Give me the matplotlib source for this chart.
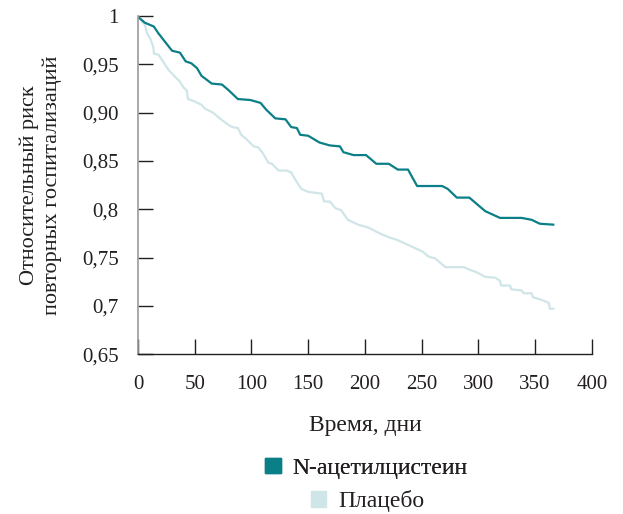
import matplotlib
matplotlib.use("Agg")
import matplotlib.pyplot as plt
from matplotlib.patches import Patch

plt.rcParams['font.family'] = ['Liberation Serif', 'DejaVu Serif']

# N-ацетилцистеин
days_nac = [1, 6, 14, 18, 22, 30, 37, 42, 47, 52,
            56, 65, 74, 80, 88, 99, 108, 113, 121, 130,
            135, 140, 143, 150, 160, 169, 178, 181, 190, 201,
            210, 221, 229, 238, 246, 268, 273, 281, 292, 306,
            319, 338, 347, 354, 366]
risk_nac = [0.998, 0.993, 0.989, 0.982, 0.976, 0.964, 0.962, 0.953, 0.951, 0.946,
            0.938, 0.930, 0.929, 0.923, 0.914, 0.913, 0.910, 0.903, 0.894, 0.893,
            0.885, 0.884, 0.877, 0.876, 0.869, 0.866, 0.865, 0.859, 0.856, 0.856,
            0.847, 0.847, 0.841, 0.841, 0.824, 0.824, 0.821, 0.812, 0.812, 0.798,
            0.791, 0.791, 0.789, 0.785, 0.784]

# Плацебо
days_pl = [1, 6, 8, 11, 13.5, 14, 18, 22, 27, 31,
           37, 40, 43, 44, 49, 56, 59, 66, 72, 80,
           83, 88, 91, 96, 102, 106, 110, 115, 118, 124,
           131, 135, 140, 144, 150, 162, 164, 169, 174, 179,
           185, 194, 203, 213, 221, 229, 240, 251, 256, 262,
           271, 287, 293, 298, 306, 315, 319, 320, 328, 329,
           338, 340, 347, 348, 356, 362, 363, 366]
risk_pl = [0.998, 0.991, 0.982, 0.976, 0.968, 0.961, 0.960, 0.953, 0.944, 0.939,
           0.932, 0.926, 0.923, 0.914, 0.912, 0.908, 0.904, 0.900, 0.894, 0.887,
           0.885, 0.884, 0.877, 0.872, 0.865, 0.864, 0.858, 0.848, 0.847, 0.840,
           0.840, 0.838, 0.828, 0.821, 0.818, 0.816, 0.808, 0.808, 0.801, 0.799,
           0.789, 0.784, 0.781, 0.775, 0.771, 0.768, 0.762, 0.756, 0.751, 0.749,
           0.740, 0.740, 0.737, 0.735, 0.730, 0.729, 0.726, 0.721, 0.721, 0.717,
           0.716, 0.713, 0.713, 0.709, 0.706, 0.703, 0.697, 0.697]

yticks = [1.0, 0.95, 0.90, 0.85, 0.80, 0.75, 0.70, 0.65]
ytick_labels = ['1', '0,95', '0,90', '0,85', '0,8', '0,75', '0,7', '0,65']
xticks = [0, 50, 100, 150, 200, 250, 300, 350, 400]

teal = '#0b7f87'
light = '#cfe5e7'
txt = '#231f20'

fig = plt.figure(figsize=(6.23, 5.14), dpi=100)
ax = fig.add_axes([0.2215, 0.311, 0.7285, 0.658])

ax.plot(days_pl, risk_pl, color=light, lw=1.6, solid_joinstyle='round')
ax.plot(days_nac, risk_nac, color=teal, lw=1.6, solid_joinstyle='round')

ax.set_xlim(0, 400)
ax.set_ylim(0.65, 1.0)
ax.set_yticks(yticks)
ax.set_yticklabels(ytick_labels)
ax.set_xticks(xticks)

for s in ['top', 'right']:
    ax.spines[s].set_visible(False)
ax.spines['left'].set_color('#9a9a9a')
ax.spines['left'].set_linewidth(1.2)
ax.spines['bottom'].set_color(txt)
ax.spines['bottom'].set_linewidth(1.0)

ax.tick_params(axis='y', direction='in', length=11, width=1, color=txt,
               pad=14, labelsize=15, labelcolor=txt)
ax.tick_params(axis='x', direction='in', length=11, width=1, color=txt,
               pad=15, labelsize=15, labelcolor=txt)

ax.set_ylabel('Относительный риск\nповторных госпитализаций', fontsize=16,
              color=txt, labelpad=14, linespacing=1.25)
ax.set_xlabel('Время, дни', fontsize=17, color=txt, labelpad=15)

# две строки легенды, каждая по центру
leg_kw = dict(loc='center', frameon=False, fontsize=17, handlelength=0.65,
              handleheight=0.65, handletextpad=0.5, labelcolor=txt)
leg1 = fig.legend(handles=[Patch(color=teal, label='N-ацетилцистеин')],
                  bbox_to_anchor=(0.588, 0.089), **leg_kw)
fig.legend(handles=[Patch(color=light, label='Плацебо')],
           bbox_to_anchor=(0.59, 0.025), **leg_kw)
fig.add_artist(leg1)

fig.savefig('out.png', dpi=100)
